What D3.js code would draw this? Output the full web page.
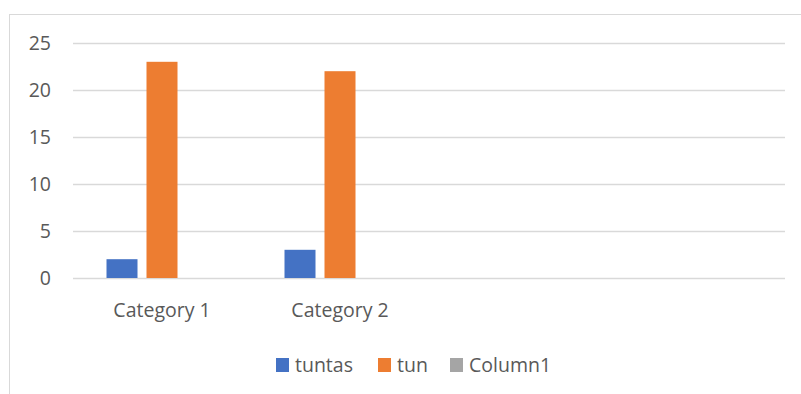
<!DOCTYPE html>
<html>
<head>
<meta charset="utf-8">
<script src="https://cdn.jsdelivr.net/npm/d3@7"></script>
<style>
  body { margin: 0; background: #fff; }
  text { font-family: "Open Sans", sans-serif; fill: #595959; }
</style>
</head>
<body>
<div id="chart"></div>
<script>
var width = 801;
var height = 394;

// chart data
var categories = ["Category 1", "Category 2", "", ""];
var series = ["tuntas", "tun", "Column1"];
var tuntas = [2, 3, null, null];
var tun = [23, 22, null, null];
var column1 = [null, null, null, null];
var yTicks = [0, 5, 10, 15, 20, 25];
var colors = ["#4472C4", "#ED7D31", "#A5A5A5"];

var values = [tuntas, tun, column1];
var fontSize = "19.5px";

var svg = d3.select("#chart").append("svg").attr("width", width).attr("height", height);

// outer border of the chart area (cut off at right/bottom)
svg.append("rect")
   .attr("x", 9.5).attr("y", 14.5)
   .attr("width", 820).attr("height", 420)
   .attr("fill", "none")
   .attr("stroke", "#D9D9D9")
   .attr("stroke-width", 1);

var plot = { left: 73, right: 785, top: 43, bottom: 278 };

var x0 = d3.scaleBand().domain(d3.range(categories.length)).range([plot.left, plot.right]);
var x1 = d3.scaleBand().domain(series).range([0, x0.bandwidth()]).paddingInner(0.225).paddingOuter(0.8375);
var y = d3.scaleLinear().domain([0, 25]).range([plot.bottom, plot.top]);

// gridlines + y labels
var yAxis = d3.axisLeft(y).tickValues(yTicks).tickSize(-(plot.right - plot.left)).tickPadding(22);
var gy = svg.append("g").attr("transform", "translate(" + plot.left + ",0)").call(yAxis);
gy.select(".domain").remove();
gy.selectAll(".tick line").attr("stroke", "#D9D9D9").attr("stroke-width", 1.3);
gy.selectAll(".tick text").style("font-size", fontSize).attr("fill", "#595959");

// bars
series.forEach(function(s, si) {
    svg.append("g").selectAll("rect")
       .data(values[si].map(function(v, i) { return { i: i, v: v }; }).filter(function(d) { return d.v != null; }))
       .enter().append("rect")
       .attr("x", function(d) { return x0(d.i) + x1(s); })
       .attr("y", function(d) { return y(d.v); })
       .attr("width", x1.bandwidth())
       .attr("height", function(d) { return y(0) - y(d.v); })
       .attr("fill", colors[si]);
});

// category labels
var xAxis = d3.axisBottom(x0).tickFormat(function(i) { return categories[i]; }).tickSize(0).tickPadding(25);
var gx = svg.append("g").attr("transform", "translate(0," + plot.bottom + ")").call(xAxis);
gx.select(".domain").remove();
gx.selectAll(".tick text").style("font-size", fontSize).attr("fill", "#595959");

// legend
var legendX = [276, 378, 450];
var legend = svg.append("g").attr("class", "legend");
series.forEach(function(s, si) {
    legend.append("rect")
          .attr("x", legendX[si]).attr("y", 358)
          .attr("width", 13).attr("height", 14)
          .attr("fill", colors[si]);
    legend.append("text")
          .attr("x", legendX[si] + 19).attr("y", 365)
          .attr("dy", "0.35em")
          .style("font-size", fontSize)
          .text(s);
});
</script>
</body>
</html>
